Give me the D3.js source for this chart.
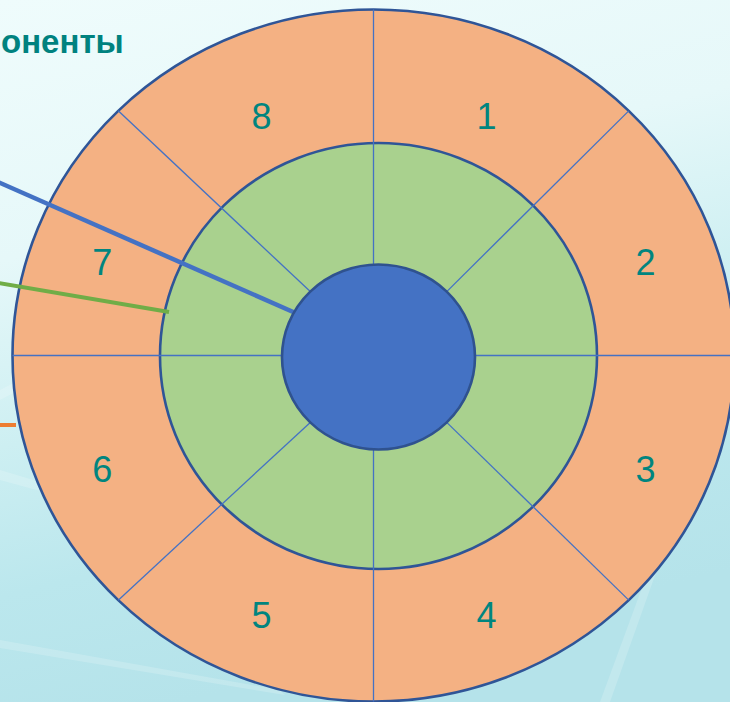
<!DOCTYPE html>
<html>
<head>
<meta charset="utf-8">
<script src="https://cdn.jsdelivr.net/npm/d3@7"></script>
<style>
  html, body { margin: 0; padding: 0; background: #e8f8f9; }
  svg { display: block; }
</style>
</head>
<body>
<svg id="chart" width="730" height="702"></svg>
<script>
// ---- data ----
const segments = ["1", "2", "3", "4", "5", "6", "7", "8"];
const ringNames = ["outer", "middle", "inner"];
const titleText = "оненты";

// ---- layout / style ----
const W = 730, H = 702;
const rings = {
  outer:  { cx: 373.5, cy: 355.5, rx: 361, ry: 346, fill: "#f4b183" },
  middle: { cx: 378.5, cy: 356,   rx: 218.5, ry: 213, fill: "#a9d18e" },
  inner:  { cx: 378.5, cy: 357,   rx: 96.5, ry: 92.5, fill: "#4472c4" }
};
const labelEllipse = { cx: 374, cy: 366, rx: 294, ry: 270 };

const svg = d3.select("#chart");
const defs = svg.append("defs");
const grad = defs.append("linearGradient").attr("id", "bg")
  .attr("x1", 0).attr("y1", 0).attr("x2", 0.25).attr("y2", 1);
[["0", "#effcfc"], ["0.35", "#e6f8f9"], ["0.6", "#cdeff2"], ["0.8", "#bbe7ed"], ["1", "#b5e3ea"]]
  .forEach(([o, c]) => grad.append("stop").attr("offset", o).attr("stop-color", c));

svg.append("rect").attr("width", W).attr("height", H).attr("fill", "url(#bg)");
// faint decorative streaks of the slide theme
const streaks = [
  [[0, 470], [300, 560], [310, 565], [0, 480]],
  [[0, 640], [280, 690], [285, 695], [0, 648]],
  [[0, 390], [290, 240], [294, 246], [0, 400]],
  [[600, 702], [700, 430], [706, 432], [610, 702]],
  [[560, 470], [730, 390], [730, 396], [566, 476]]
];
svg.append("g").selectAll("path").data(streaks).join("path")
  .attr("d", d => d3.line()(d) + "Z")
  .attr("fill", "#ffffff").attr("opacity", 0.18);

// title fragment
svg.append("text")
  .attr("x", 1).attr("y", 53)
  .attr("text-anchor", "start")
  .attr("font-family", "Liberation Sans, Arial, sans-serif")
  .attr("font-weight", "bold")
  .attr("font-size", 33)
  .attr("fill", "#00827f")
  .text(titleText);

// orange pointer (ends at outer edge)
svg.append("line")
  .attr("x1", -2).attr("y1", 425).attr("x2", 16).attr("y2", 425)
  .attr("stroke", "#ed7d31").attr("stroke-width", 4);

// angle scale over segments (clockwise from 12 o'clock)
const angle = d3.scaleBand().domain(segments).range([0, 2 * Math.PI]);
const pt = (e, a) => [e.cx + e.rx * Math.sin(a), e.cy - e.ry * Math.cos(a)];

// outer and middle rings
svg.append("g").selectAll("ellipse").data(ringNames.slice(0, 2)).join("ellipse")
  .attr("cx", d => rings[d].cx).attr("cy", d => rings[d].cy)
  .attr("rx", d => rings[d].rx).attr("ry", d => rings[d].ry)
  .attr("fill", d => rings[d].fill)
  .attr("stroke", "#2f5597").attr("stroke-width", 2.6);

// spokes at segment boundaries (axis-aligned ones stay straight)
svg.append("g").selectAll("line").data(segments).join("line")
  .each(function (d) {
    const a = angle(d);
    const p0 = pt(rings.outer, a), p1 = pt(rings.inner, a);
    if (Math.abs(Math.sin(a)) < 1e-6) p1[0] = p0[0];
    if (Math.abs(Math.cos(a)) < 1e-6) p1[1] = p0[1];
    d3.select(this).attr("x1", p0[0]).attr("y1", p0[1]).attr("x2", p1[0]).attr("y2", p1[1]);
  })
  .attr("stroke", "#4472c4").attr("stroke-width", 1.3);

// blue and green pointers
svg.append("line")
  .attr("x1", -2).attr("y1", 182).attr("x2", 300).attr("y2", 315)
  .attr("stroke", "#4472c4").attr("stroke-width", 4.5);
svg.append("line")
  .attr("x1", -2).attr("y1", 283).attr("x2", 169).attr("y2", 312)
  .attr("stroke", "#70ad47").attr("stroke-width", 4);

// inner circle
svg.append("ellipse")
  .attr("cx", rings.inner.cx).attr("cy", rings.inner.cy)
  .attr("rx", rings.inner.rx).attr("ry", rings.inner.ry)
  .attr("fill", rings.inner.fill)
  .attr("stroke", "#2f528f").attr("stroke-width", 2.6);

// segment labels
svg.append("g").selectAll("text").data(segments).join("text")
  .attr("x", d => pt(labelEllipse, angle(d) + angle.bandwidth() / 2)[0])
  .attr("y", d => pt(labelEllipse, angle(d) + angle.bandwidth() / 2)[1])
  .attr("text-anchor", "middle")
  .attr("dominant-baseline", "central")
  .attr("font-family", "Liberation Sans, Arial, sans-serif")
  .attr("font-size", 36)
  .attr("fill", "#00857f")
  .text(d => d);
</script>
</body>
</html>
